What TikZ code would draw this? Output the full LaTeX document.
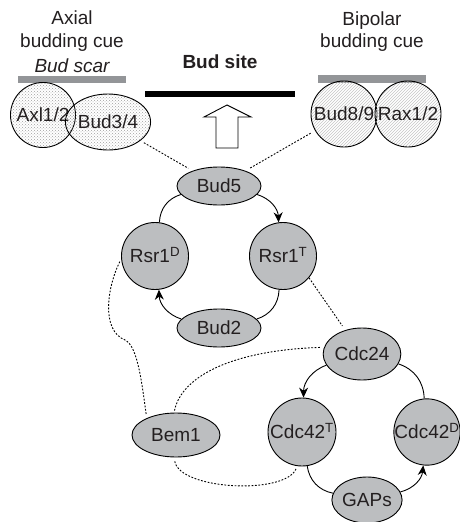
\documentclass[tikz,border=0pt]{standalone}
\usepackage{fontspec}
\setmainfont{Liberation Sans}
\usetikzlibrary{shapes.geometric,arrows.meta,patterns}
\definecolor{ink}{HTML}{231F20}
\definecolor{protgray}{HTML}{BCBEC0}
\definecolor{bargray}{HTML}{939598}
\tikzset{
	prot/.style={ellipse,draw=black,fill=protgray,line width=0.9pt,text=ink,inner sep=0pt,text height=13.6pt,text depth=0pt},
	protc/.style={prot,circle,minimum size=67pt},
	cuedots/.style={prot,fill=none,pattern=crosshatch dots,pattern color=gray!75},
	cuelines/.style={prot,circle,fill=none,pattern=north east lines,pattern color=gray!45,minimum size=66pt},
	label/.style={text=ink,anchor=base},
	link/.style={line width=0.9pt,-{Stealth[length=10pt,width=9pt]}},
	plainlink/.style={line width=0.9pt},
	dotlink/.style={dash pattern=on 1.8pt off 1.6pt,line width=0.9pt},
}
\begin{document}
\begin{tikzpicture}[x=1pt,y=1pt,font=\fontsize{19}{23}\selectfont]
	\path[use as bounding box] (0,0) rectangle (459,-522);
	\node[label] (axial) at (72,-24) {Axial};
	\node[label] (axialcue) at (72,-47) {budding cue};
	\node[label] (scar) at (72,-72) {\itshape Bud scar};
	\fill[bargray] (18,-76) rectangle (126,-83);
	\node[label] (bipolar) at (372,-25) {Bipolar};
	\node[label] (bipolarcue) at (372,-47) {budding cue};
	\fill[bargray] (318,-75) rectangle (426,-83);
	\node[label,font=\fontsize{19}{23}\selectfont\bfseries] (budsite) at (220,-68) {Bud site};
	\fill[black] (145,-91) rectangle (295,-97);
	\draw[line width=0.9pt,fill=white] (227,-105) -- (251,-117) -- (238,-117) -- (238,-148)
		-- (216,-148) -- (216,-117) -- (204,-117) -- cycle;

	\node[cuedots,circle,minimum size=65pt] (axl) at (43,-115) {Axl1/2};
	\node[cuedots,minimum width=69pt,minimum height=56pt] (bud34) at (108,-122) {Bud3/4};
	\node[cuelines] (bud89) at (344,-114) {Bud8/9};
	\node[cuelines] (rax) at (408,-114) {Rax1/2};

	\node[prot,minimum width=84pt,minimum height=38pt] (bud5) at (219,-186) {Bud5};
	\node[protc] (rsr1d) at (155,-256) {Rsr1\textsuperscript{D}};
	\node[protc] (rsr1t) at (283,-256) {Rsr1\textsuperscript{T}};
	\node[prot,minimum width=84pt,minimum height=38pt] (bud2) at (219,-328) {Bud2};

	\node[prot,minimum width=74pt,minimum height=52pt] (cdc24) at (362,-354) {Cdc24};
	\node[protc,minimum size=68pt] (cdc42t) at (302,-432) {Cdc42\textsuperscript{T}};
	\node[protc,minimum size=66pt] (cdc42d) at (427,-432) {Cdc42\textsuperscript{D}};
	\node[prot,minimum width=70pt,minimum height=46pt] (gaps) at (367,-500) {GAPs};
	\node[prot,minimum width=88pt,minimum height=44pt] (bem1) at (176,-435) {Bem1};

	\draw[link] (bud5) to[bend left=35] (rsr1t);
	\draw[plainlink] (rsr1t) to[bend left=35] (bud2);
	\draw[link] (bud2) to[bend left=35] (rsr1d);
	\draw[plainlink] (rsr1d) to[bend left=35] (bud5);

	\draw[link] (cdc24) to[bend right=35] (cdc42t);
	\draw[plainlink] (cdc42t) to[bend right=35] (gaps);
	\draw[link] (gaps) to[bend right=35] (cdc42d);
	\draw[plainlink] (cdc42d) to[bend right=35] (cdc24);

	\draw[dotlink,shorten <=4pt,shorten >=5pt] (bud34) -- (bud5);
	\draw[dotlink,shorten <=5pt,shorten >=5pt] (bud89) -- (bud5);
	\draw[dotlink,shorten >=5pt] (rsr1t.-40) -- (cdc24.125);
	\draw[dotlink,shorten <=3pt,shorten >=4pt] (rsr1d.185) .. controls (108,-285) and (100,-330) .. (125,-340)
		.. controls (138,-346) and (142,-385) .. (bem1.150);
	\draw[dotlink,shorten <=2pt,shorten >=3pt] (bem1.95) .. controls (182,-375) and (235,-350) .. (cdc24.170);
	\draw[dotlink,shorten <=4pt,shorten >=3pt] (bem1.265) .. controls (180,-490) and (285,-495) .. (cdc42t.262);
\end{tikzpicture}
\end{document}
